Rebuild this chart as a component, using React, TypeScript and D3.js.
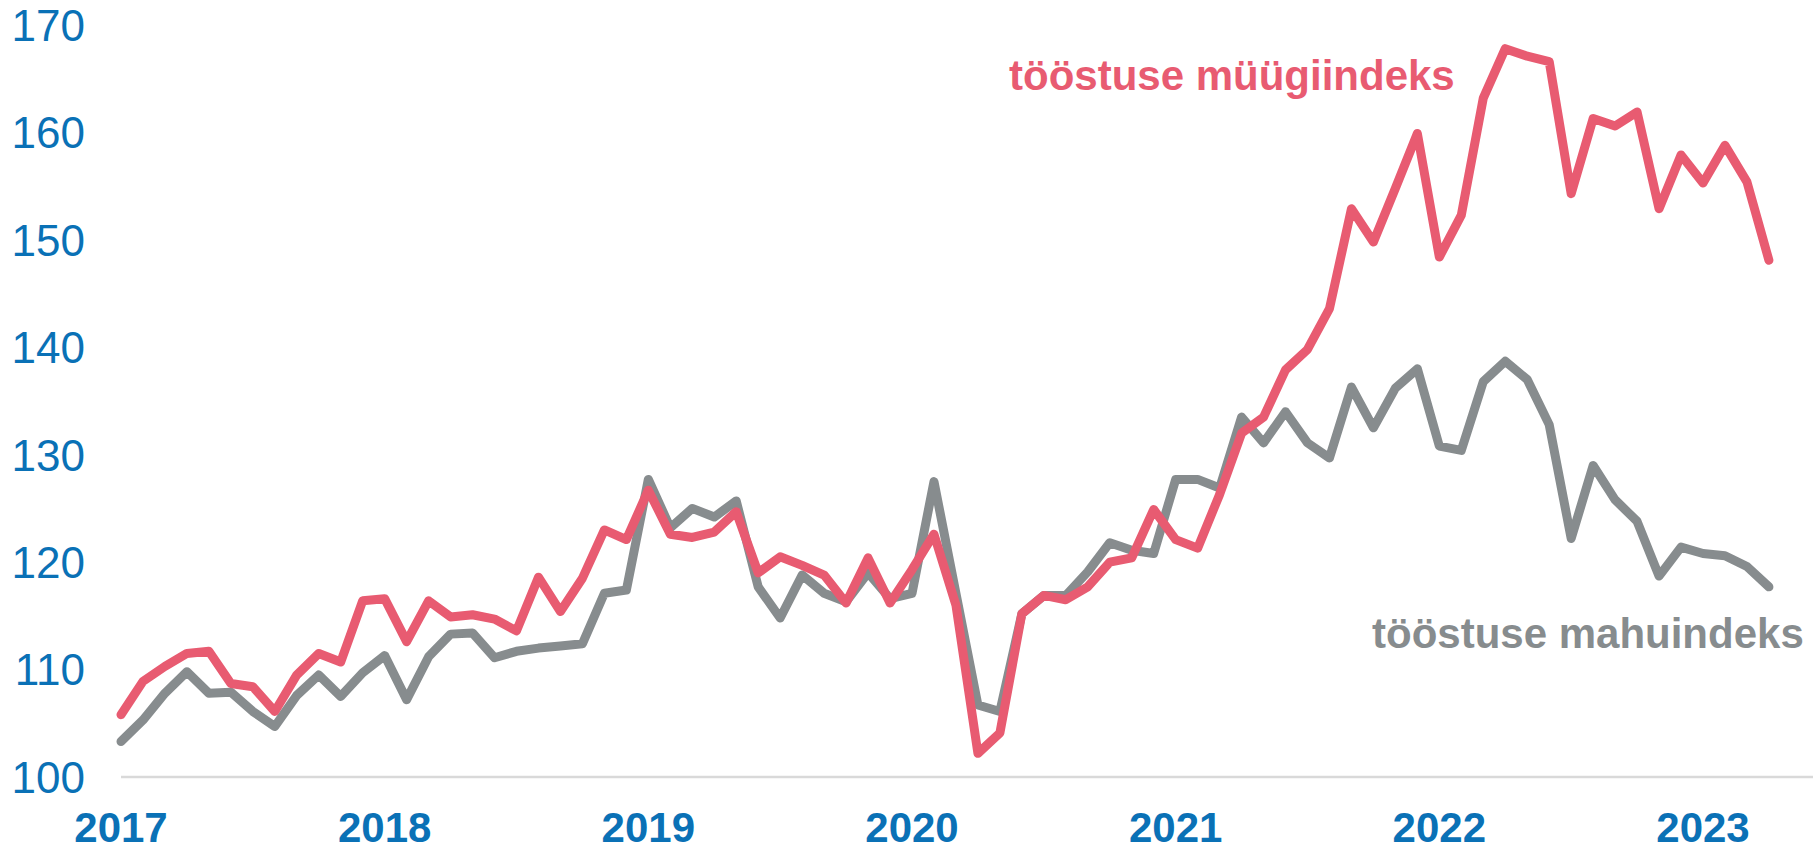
import React from "react";
import * as d3 from "d3";

const W = 1813;
const H = 848;

const years = ["2017", "2018", "2019", "2020", "2021", "2022", "2023"];
const yTicks = [100, 110, 120, 130, 140, 150, 160, 170];

// tööstuse müügiindeks (monthly, Jan 2017 – Apr 2023)
const salesIndex = [
  105.8, 108.9, 110.3, 111.5, 111.7, 108.7, 108.4, 106.1, 109.5, 111.5, 110.7, 116.4,
  116.6, 112.6, 116.4, 114.9, 115.1, 114.7, 113.6, 118.6, 115.4, 118.5, 123.0, 122.1,
  126.7, 122.6, 122.3, 122.8, 124.7, 119.0, 120.5, 119.7, 118.8, 116.2, 120.4, 116.2,
  119.3, 122.6, 116.0, 102.2, 104.1, 115.2, 116.9, 116.5, 117.7, 120.0, 120.4, 124.9,
  122.1, 121.3, 126.3, 132.0, 133.5, 137.9, 139.8, 143.6, 152.9, 149.8, 154.8, 159.9,
  148.4, 152.3, 163.2, 167.8, 167.1, 166.6, 154.3, 161.3, 160.6, 161.9, 152.9, 157.9,
  155.3, 158.8, 155.4, 148.1,
];

// tööstuse mahuindeks (monthly, Jan 2017 – Apr 2023)
const volumeIndex = [
  103.3, 105.3, 107.8, 109.8, 107.8, 107.9, 106.1, 104.7, 107.6, 109.5, 107.5, 109.7,
  111.3, 107.2, 111.2, 113.3, 113.4, 111.1, 111.7, 112.0, 112.2, 112.4, 117.1, 117.4,
  127.7, 123.2, 125.0, 124.2, 125.7, 117.7, 114.8, 118.8, 117.1, 116.3, 119.0, 116.6,
  117.1, 127.5, 117.1, 106.7, 106.1, 115.2, 116.9, 116.9, 119.1, 121.8, 121.1, 120.8,
  127.7, 127.7, 126.9, 133.5, 131.1, 134.0, 131.1, 129.7, 136.3, 132.5, 136.2, 138.0,
  130.8, 130.4, 136.8, 138.7, 137.0, 132.8, 122.2, 129.0, 125.8, 123.8, 118.7, 121.4,
  120.8, 120.6, 119.6, 117.7,
];

const seriesLabels = ["tööstuse müügiindeks", "tööstuse mahuindeks"];

const RED = "#E85B71";
const GRAY = "#878C8E";
const BLUE = "#0A71B6";
const FONT = "'Liberation Sans', Arial, Helvetica, sans-serif";

export default function App() {
  const x = d3.scaleLinear().domain([0, 72]).range([121, 1703]);
  const y = d3.scaleLinear().domain([100, 170]).range([777, 25]);

  const line = d3
    .line<number>()
    .x((_, i) => x(i))
    .y((d) => y(d));

  return (
    <svg
      width={W}
      height={H}
      viewBox={`0 0 ${W} ${H}`}
      style={{ position: "absolute", left: 0, top: 0, background: "#fff" }}
    >
      <rect x={0} y={0} width={W} height={H} fill="#fff" />
      {/* baseline */}
      <line x1={x(0)} x2={W} y1={y(100)} y2={y(100)} stroke="#D9D9D9" strokeWidth={2.5} />

      {/* y tick labels */}
      {yTicks.map((t) => (
        <text
          key={t}
          x={85}
          y={y(t)}
          dy="0.36em"
          textAnchor="end"
          fontFamily={FONT}
          fontSize={44}
          fill={BLUE}
        >
          {t}
        </text>
      ))}

      {/* x year labels */}
      {years.map((yr, i) => (
        <text
          key={yr}
          x={x(i * 12)}
          y={842}
          textAnchor="middle"
          fontFamily={FONT}
          fontWeight="bold"
          fontSize={42}
          fill={BLUE}
        >
          {yr}
        </text>
      ))}

      {/* lines */}
      <path
        d={line(volumeIndex) || ""}
        fill="none"
        stroke={GRAY}
        strokeWidth={9}
        strokeLinejoin="round"
        strokeLinecap="round"
      />
      <path
        d={line(salesIndex) || ""}
        fill="none"
        stroke={RED}
        strokeWidth={9}
        strokeLinejoin="round"
        strokeLinecap="round"
      />

      {/* series labels */}
      <text x={1009} y={90} fontFamily={FONT} fontWeight="bold" fontSize={42} fill={RED}>
        {seriesLabels[0]}
      </text>
      <text x={1372} y={648} fontFamily={FONT} fontWeight="bold" fontSize={42} fill={GRAY}>
        {seriesLabels[1]}
      </text>
    </svg>
  );
}
